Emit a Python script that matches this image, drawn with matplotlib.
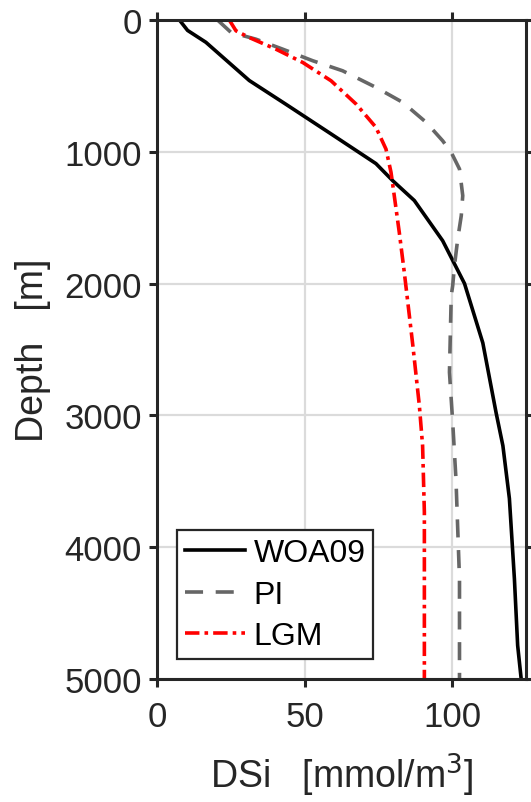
"""DSi depth profiles: WOA09 vs PI and LGM runs"""

import matplotlib.pyplot as plt

plt.rcParams["font.family"] = ["Liberation Sans", "DejaVu Sans"]

DARK = (0.15, 0.15, 0.15)

woa_depth = [0, 80, 170, 460, 640, 865, 1090, 1220, 1370, 1675, 2000,
             2450, 2980, 3230, 3630, 4240, 4745, 5000]
woa_dsi = [7.5, 10.3, 16.5, 31.2, 43.6, 58.9, 74.1, 79.8, 87.1, 96.7, 104.1,
           110.3, 114.8, 117.1, 119.3, 121.0, 122.1, 123.3]

pi_depth = [0, 95, 146, 222, 310, 386, 512, 626, 777, 917, 1005, 1131, 1333,
            1485, 1661, 1864, 2015, 2092, 2672, 3052, 3482, 3861, 4240, 5000]
pi_dsi = [20.4, 25.0, 33.4, 42.5, 52.7, 62.8, 74.1, 83.2, 91.1, 96.7, 99.6,
          102.4, 103.5, 103.0, 101.8, 100.7, 100.1, 99.6, 99.0, 100.1, 101.2,
          101.8, 102.4, 102.4]

lgm_depth = [0, 83, 134, 222, 323, 462, 639, 815, 980, 1156, 1333, 1611,
             1914, 2470, 2925, 3229, 3732, 5000]
lgm_dsi = [24.4, 26.7, 31.2, 40.2, 49.3, 58.9, 67.4, 74.1, 77.5, 79.2, 80.3,
           82.0, 83.7, 86.6, 88.8, 89.9, 90.5, 90.5]

x_ticks = [0, 50, 100]
y_ticks = [0, 1000, 2000, 3000, 4000, 5000]

fig = plt.figure(figsize=(5.31, 8.03), dpi=100)
ax = fig.add_axes([0.296, 0.153, 0.695, 0.821])

ax.plot(woa_dsi, woa_depth, color="black", lw=2.6, label="WOA09")
ax.plot(pi_dsi, pi_depth, color=(0.4, 0.4, 0.4), lw=2.6, ls=(0, (5, 3.5)),
        label="PI")
ax.plot(lgm_dsi, lgm_depth, color="red", lw=2.6,
        ls=(0, (4, 1.4, 1, 1.4)), label="LGM")

ax.set_xlim(0, 125)
ax.set_ylim(5000, 0)
ax.set_xticks(x_ticks)
ax.set_yticks(y_ticks)
ax.grid(True, color=(0.86, 0.86, 0.86), lw=1.6)
ax.set_axisbelow(True)

for side in ax.spines.values():
    side.set_linewidth(2.2)
    side.set_color(DARK)
ax.tick_params(direction="out", length=6, width=2.2, color=DARK,
               labelcolor=DARK, labelsize=25, top=True, right=True)
ax.tick_params(axis="x", pad=9)
ax.tick_params(axis="y", pad=5)

ax.set_xlabel("DSi   [mmol/m$^{3}$]", fontsize=27, color=DARK, labelpad=13)
ax.set_ylabel("Depth   [m]", fontsize=27, color=DARK, labelpad=10)

leg = ax.legend(loc="lower left", bbox_to_anchor=(0.053, 0.03),
                borderaxespad=0, fontsize=23, fancybox=False,
                framealpha=1, edgecolor=DARK, handlelength=1.9,
                handletextpad=0.25, borderpad=0.25, labelspacing=0.36)
leg.get_frame().set_linewidth(1.6)

plt.savefig("out.png", dpi=100)
